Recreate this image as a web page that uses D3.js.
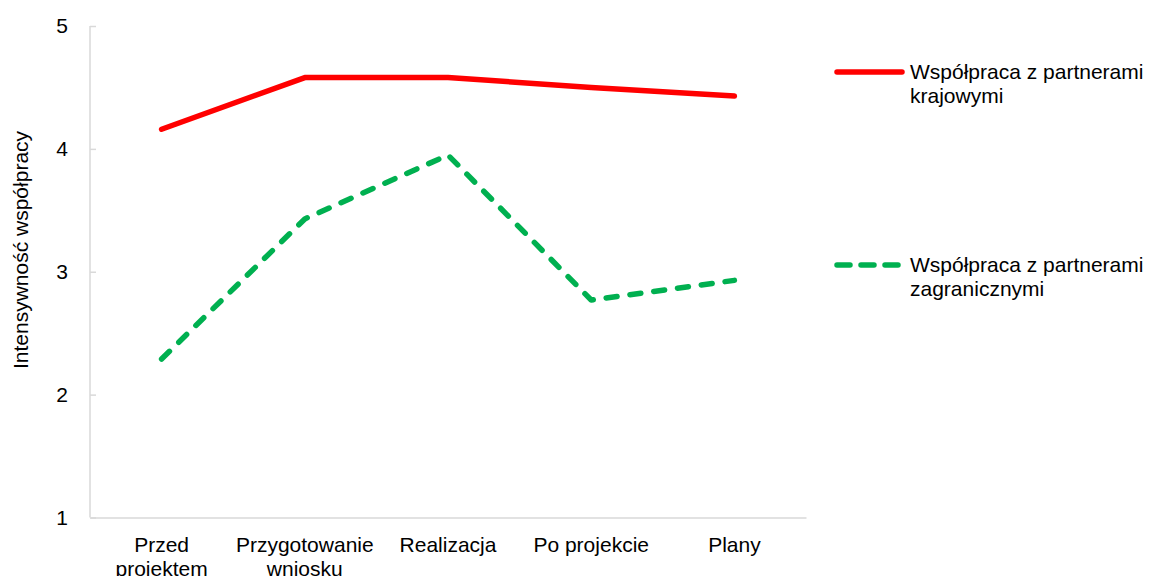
<!DOCTYPE html>
<html>
<head>
<meta charset="utf-8">
<script src="https://cdn.jsdelivr.net/npm/d3@7"></script>
<style>
  html, body { margin: 0; padding: 0; background: #fff; }
  svg { display: block; font-family: "Liberation Sans", Arial, sans-serif; }
</style>
</head>
<body>
<svg id="chart" width="1152" height="576"></svg>
<script>
// Stages of the project
const categories = [["Przed", "projektem"], ["Przygotowanie", "wniosku"], ["Realizacja"], ["Po projekcie"], ["Plany"]];
const stageKeys = ["Przed projektem", "Przygotowanie wniosku", "Realizacja", "Po projekcie", "Plany"];

// Cooperation intensity per stage
const domestic = [4.16, 4.58, 4.58, 4.50, 4.43];
const foreign = [2.29, 3.43, 3.95, 2.77, 2.93];

const yTicks = [1, 2, 3, 4, 5];
const yTitle = "Intensywność współpracy";
const seriesNames = [["Współpraca z partnerami", "krajowymi"], ["Współpraca z partnerami", "zagranicznymi"]];

const svg = d3.select("#chart");
const plot = { left: 90, right: 806, top: 26, bottom: 517.5 };

const x = d3.scaleBand().domain(stageKeys).range([plot.left, plot.right]);
const y = d3.scaleLinear().domain([1, 5]).range([plot.bottom, plot.top]);

const axisColor = "#d9d9d9";
const fontSize = 21;

// Y axis with inner ticks
const yAxis = svg.append("g")
  .attr("transform", `translate(${plot.left},0)`)
  .call(d3.axisLeft(y).tickValues(yTicks).tickSize(-6).tickPadding(22).tickFormat(d3.format("d")));
yAxis.select(".domain").attr("stroke", axisColor).attr("stroke-width", 1.5).attr("d", `M0,${plot.top}V${plot.bottom}`);
yAxis.selectAll(".tick line").attr("stroke", axisColor).attr("stroke-width", 1.5);
yAxis.selectAll(".tick text").attr("font-size", fontSize).attr("fill", "#000")
  .attr("font-family", "Liberation Sans, Arial, sans-serif");

// X axis baseline
const xAxis = svg.append("g")
  .attr("transform", `translate(0,${plot.bottom})`)
  .call(d3.axisBottom(x).tickSize(0).tickFormat(""));
xAxis.select(".domain").attr("stroke", axisColor).attr("stroke-width", 1.5);

// Category labels (two lines where needed)
xAxis.selectAll(".tick").each(function(d, i) {
  const t = d3.select(this).append("text")
    .attr("fill", "#000")
    .attr("font-size", fontSize)
    .attr("font-family", "Liberation Sans, Arial, sans-serif")
    .attr("text-anchor", "middle")
    .attr("y", 34);
  categories[i].forEach((line, k) => {
    t.append("tspan").attr("x", 0).attr("dy", k === 0 ? 0 : 24).text(line);
  });
});

// Y axis title
svg.append("text")
  .attr("transform", `translate(28,250) rotate(-90)`)
  .attr("text-anchor", "middle")
  .attr("font-size", fontSize)
  .attr("fill", "#000")
  .text(yTitle);

const line = d3.line()
  .x((d, i) => x(stageKeys[i]) + x.bandwidth() / 2)
  .y(d => y(d));

const styles = [
  { color: "#ff0000", dash: null },
  { color: "#00b050", dash: "11,13" }
];

[domestic, foreign].forEach((vals, s) => {
  svg.append("path")
    .datum(vals)
    .attr("d", line)
    .attr("fill", "none")
    .attr("stroke", styles[s].color)
    .attr("stroke-width", 5.5)
    .attr("stroke-linecap", "round")
    .attr("stroke-linejoin", "round")
    .attr("stroke-dasharray", styles[s].dash);
});

// Legend
const legendY = [72, 265];
seriesNames.forEach((name, s) => {
  const g = svg.append("g").attr("transform", `translate(0,${legendY[s]})`);
  g.append("line")
    .attr("x1", 837).attr("x2", 902).attr("y1", 0).attr("y2", 0)
    .attr("stroke", styles[s].color)
    .attr("stroke-width", 5.5)
    .attr("stroke-linecap", "round")
    .attr("stroke-dasharray", s === 1 ? "13,11" : null);
  const t = g.append("text")
    .attr("font-size", fontSize)
    .attr("fill", "#000")
    .attr("y", 7);
  name.forEach((ln, k) => {
    t.append("tspan").attr("x", 910).attr("dy", k === 0 ? 0 : 24).text(ln);
  });
});
</script>
</body>
</html>
